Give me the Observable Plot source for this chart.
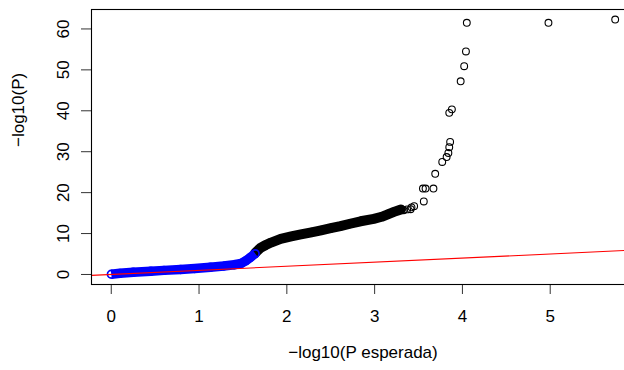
<!DOCTYPE html>
<html>
<head>
<meta charset="utf-8">
<script src="https://cdn.jsdelivr.net/npm/d3@7"></script>
<script src="https://cdn.jsdelivr.net/npm/@observablehq/plot@0.6"></script>
<style>
  html, body { margin: 0; padding: 0; background: #fff; }
  #wrap { width: 624px; height: 370px; overflow: hidden; }
</style>
</head>
<body>
<div id="wrap"></div>
<script>
// Axis ticks and labels
const xTicks = [0, 1, 2, 3, 4, 5];
const yTicks = [0, 10, 20, 30, 40, 50, 60];
const xLabel = "\u2212log10(P esperada)";
const yLabel = "\u2212log10(P)";
const xDomain = [-0.225, 5.96];
const yDomain = [-2.45, 64.75];

// Dense lower part of the QQ curve (blue points)
const blueX = [0, 0.1, 0.25, 0.45, 0.6, 0.79, 0.95, 1.13, 1.28, 1.4, 1.48, 1.53, 1.58, 1.64];
const blueY = [0.05, 0.29, 0.55, 0.81, 1.0, 1.22, 1.45, 1.79, 2.05, 2.37, 2.7, 3.3, 4.1, 5.1];

// Dense black band
const bandX = [1.64, 1.7, 1.76, 1.82, 1.93, 2.05, 2.16, 2.28, 2.39, 2.5, 2.61, 2.72, 2.84, 2.99, 3.08, 3.15, 3.22, 3.3];
const bandY = [5.3, 6.5, 7.2, 7.8, 8.7, 9.3, 9.8, 10.3, 10.8, 11.3, 11.8, 12.4, 13.0, 13.6, 14.1, 14.7, 15.3, 15.9];

// Sparse black points at the top tail
const tailX = [3.33, 3.37, 3.41, 3.42, 3.45, 3.56, 3.55, 3.58, 3.67, 3.69, 3.77, 3.82, 3.84, 3.85, 3.86, 3.85, 3.88, 3.98, 4.02, 4.04, 4.05, 4.98, 5.74];
const tailY = [15.7, 15.9, 15.95, 16.4, 16.7, 17.85, 21.0, 21.0, 21.0, 24.6, 27.5, 28.7, 29.7, 31.1, 32.4, 39.5, 40.35, 47.2, 50.9, 54.5, 61.5, 61.5, 62.3];

const blue = blueX.map((x, i) => ({x, y: blueY[i]}));
const band = bandX.map((x, i) => ({x, y: bandY[i]}));
const tail = tailX.map((x, i) => ({x, y: tailY[i]}));

const font = "'Liberation Sans', Arial, Helvetica, sans-serif";

const chart = Plot.plot({
  width: 634,
  height: 370,
  marginLeft: 91,
  marginRight: 0,
  marginTop: 9,
  marginBottom: 86,
  style: {maxWidth: "none", fontFamily: font, fontSize: "17px", background: "#fff", color: "#000"},
  x: {domain: xDomain},
  y: {domain: yDomain},
  marks: [
    Plot.axisX({ticks: xTicks, tickFormat: d3.format("d"), tickSize: 10, tickPadding: 15, label: null, stroke: "#333", fill: "#000", fontSize: 17}),
    Plot.axisY({ticks: yTicks, tickFormat: d3.format("d"), tickSize: 10, tickPadding: 13, tickRotate: -90, label: null, stroke: "#333", fill: "#000", fontSize: 17}),
    // black dense band
    Plot.line(band, {x: "x", y: "y", stroke: "#000", strokeWidth: 10, strokeLinecap: "round", strokeLinejoin: "round"}),
    Plot.dot(band, {x: "x", y: "y", r: 3.8, stroke: "#000", strokeWidth: 1.3}),
    // sparse tail
    Plot.dot(tail, {x: "x", y: "y", r: 3.4, stroke: "#000", strokeWidth: 1.1, fill: "none"}),
    // blue dense band
    Plot.line(blue, {x: "x", y: "y", stroke: "#0000ff", strokeWidth: 9.5, strokeLinecap: "butt", strokeLinejoin: "round"}),
    Plot.dot(blue, {x: "x", y: "y", r: 3.8, stroke: "#0000ff", strokeWidth: 1.7}),
    // reference y = x line
    Plot.line(xDomain, {x: d => d, y: d => d, stroke: "#ff0000", strokeWidth: 1.1}),
    Plot.frame({stroke: "#000", strokeWidth: 1.1}),
    Plot.text([xLabel], {frameAnchor: "bottom", dy: 73, fontSize: 17, fill: "#000"}),
    Plot.text([yLabel], {frameAnchor: "left", dx: -73, rotate: -90, fontSize: 17, fill: "#000"})
  ]
});
document.getElementById("wrap").appendChild(chart);
</script>
</body>
</html>
